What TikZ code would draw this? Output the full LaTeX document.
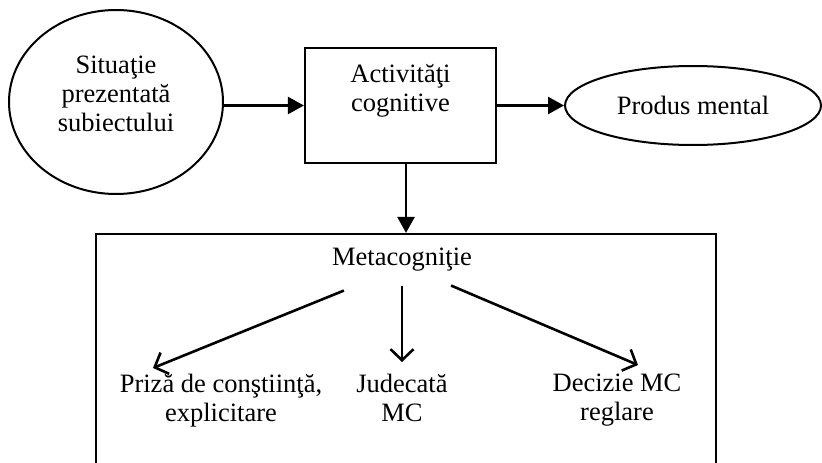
\documentclass[tikz,border=0pt]{standalone}
\usepackage{fontspec}
\setmainfont{Liberation Serif}
\usetikzlibrary{positioning}
\usetikzlibrary{shapes.geometric}
\usetikzlibrary{arrows.meta}
\tikzset{cutie/.style={draw, line width=2.2pt, rectangle, inner sep=0pt}}
\tikzset{oval/.style={draw, line width=2pt, ellipse, inner sep=0pt, font=\fontsize{26.5}{29}\selectfont}}
\tikzset{scris/.style={align=center, inner sep=0pt, font=\fontsize{26.5}{29}\selectfont}}
\tikzset{plin/.style={line width=2.6pt, -{Triangle[length=16pt,width=17pt]}}}
\tikzset{gol/.style={line width=2.6pt, -{Straight Barb[length=11pt,width=23pt]}}}

\begin{document}
\begin{tikzpicture}[x=1pt,y=-1pt]
\useasboundingbox (0,0) rectangle (822,463);
\clip (0,0) rectangle (822,463);
% randul de sus
\node[oval, minimum width=214pt, minimum height=184pt] (sit) at (116,102) {};
\node[scris, below=47pt of sit.north] (sittxt) {Situaţie\\prezentată\\subiectului};
\node[cutie, minimum width=191pt, minimum height=115pt] (act) at (400.5,105.5) {};
\node[scris, below=17pt of act.north] (acttxt) {Activităţi\\cognitive};
\node[oval, minimum width=256pt, minimum height=79pt] (prod) at (693,105.5) {Produs mental};
\draw[plin] (sit.east |- act.west) -- (act.west);
\draw[plin] (act.east) -- (prod.west);
% metacognitia
\node[cutie, minimum width=620pt, minimum height=236pt] (meta) at (406,352) {};
\draw[plin] (act.south -| meta.north) -- (meta.north);
\node[scris, below=15pt of meta.north, xshift=-4pt] (metatxt) {Metacogniţie};
\node[scris, anchor=north] (priza) at (221,374) {Priză de conştiinţă,\\explicitare};
\node[scris, anchor=north] (jud) at (402,374) {Judecată\\MC};
\node[scris, anchor=north] (dec) at (617,374) {Decizie MC\\reglare};
\draw[gol] ([shift={(12,19)}]metatxt.south west) -- ([shift={(-68,-6)}]priza.north);
\draw[gol] ([yshift=-14pt]metatxt.south) -- ([yshift=12pt]jud.north);
\draw[gol] ([shift={(-21,14)}]metatxt.south east) -- ([shift={(21,-9)}]dec.north);
\end{tikzpicture}
\end{document}
